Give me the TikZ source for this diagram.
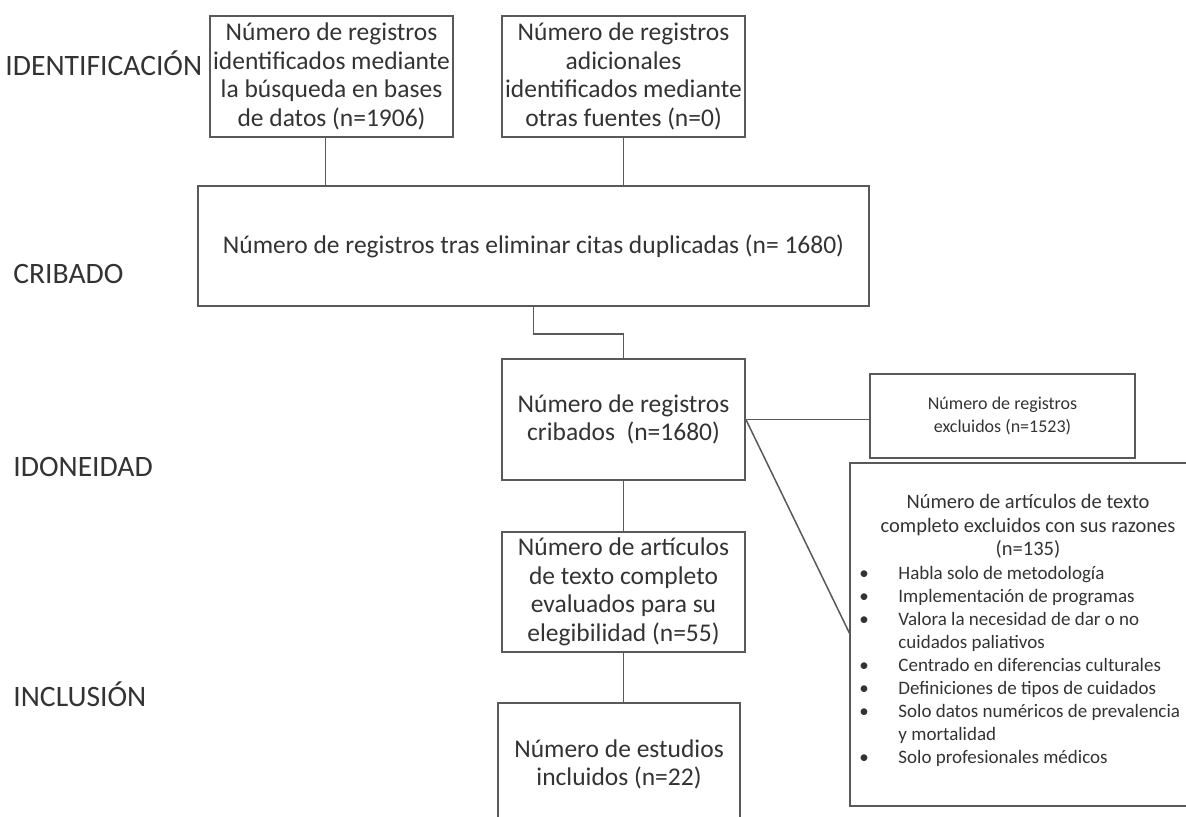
\documentclass[tikz,border=0pt]{standalone}
\usepackage{fontspec}
\setmainfont{Carlito}
\usetikzlibrary{positioning}
\definecolor{linegray}{gray}{0.35}
\definecolor{textgray}{gray}{0.2}
\newcommand\cajafont{\fontsize{12.75}{14.25}\selectfont}
\newcommand\etapafont{\fontsize{14.8}{16}\selectfont}
\newcommand\exclfont{\fontsize{9}{11.5}\selectfont}
\newcommand\titfont{\fontsize{10.25}{11.75}\selectfont}
\newcommand\listafont{\fontsize{9.5}{11.5}\selectfont}
\tikzset{
  box/.style={draw=linegray, line width=0.9pt, inner sep=1pt, align=center, text=textgray},
  stage/.style={anchor=west, inner sep=0pt, text=textgray, font=\etapafont},
  conn/.style={draw=linegray, line width=0.75pt},
  item/.style={inner sep=0pt, text=textgray, font=\listafont},
}

\begin{document}
\begin{tikzpicture}[x=0.5pt,y=-0.5pt]
\useasboundingbox (0,0) rectangle (1186,816);
% etapas
\node[stage] (lid) at (5,63) {IDENTIFICACIÓN};
\node[stage] (lcr) at (13,274) {CRIBADO};
\node[stage] (lido) at (13,467) {IDONEIDAD};
\node[stage] (linc) at (13,694) {INCLUSIÓN};
% cajas
\node[box, minimum width=121.5pt, minimum height=60.5pt, font=\cajafont] (bases) at (331.5,76.5)
  {Número de registros\\identificados mediante\\la búsqueda en bases\\de datos (n=1906)};
\node[box, minimum width=121.5pt, minimum height=60.5pt, font=\cajafont] (otras) at (623.5,76.5)
  {Número de registros\\adicionales\\identificados mediante\\otras fuentes (n=0)};
\node[box, minimum width=335.5pt, minimum height=60pt, font=\cajafont] (dupl) at (533.5,246)
  {Número de registros tras eliminar citas duplicadas (n= 1680)};
\node[box, minimum width=121.5pt, minimum height=60.5pt, font=\cajafont] (crib) at (623.5,419.5)
  {Número de registros\\cribados\ \ (n=1680)};
\node[box, minimum width=121.5pt, minimum height=60pt, font=\cajafont] (eleg) at (623.5,592)
  {Número de artículos\\de texto completo\\evaluados para su\\elegibilidad (n=55)};
\node[box, minimum width=121pt, minimum height=61.5pt, font=\cajafont] (incl) at (619,764.5)
  {Número de estudios\\incluidos (n=22)};
\node[box, minimum width=132.5pt, minimum height=42pt, font=\exclfont] (excl) at (1002.5,416)
  {Número de registros\\excluidos (n=1523)};
% caja de razones: su lado derecho queda fuera de la imagen
\node[box, draw=none, minimum width=190pt, minimum height=170.5pt] (razones) at (1041,634.5) {};
\draw[linegray, line width=0.9pt] (razones.north east) -- (razones.north west)
  -- (razones.south west) -- (razones.south east);
% texto de razones
\node[inner sep=0pt, align=center, text=textgray, font=\titfont] (rtit) at (1028,526.5)
  {Número de artículos de texto\\completo excluidos con sus razones\\(n=135)};
\foreach \y/\b/\t [count=\i] in {573/1/Habla solo de metodología,
    596/1/Implementación de programas,
    619/1/Valora la necesidad de dar o no,
    642/0/cuidados paliativos,
    665/1/Centrado en diferencias culturales,
    688/1/Definiciones de tipos de cuidados,
    711/1/Solo datos numéricos de prevalencia,
    734/0/y mortalidad,
    757/1/Solo profesionales médicos}{
  \node[item, anchor=base west] (r\i) at (898,\y+6) {\t};
  \ifnum\b=1 \node[item, anchor=base] (p\i) at (864,\y+6) {\textbullet}; \fi
}
% conectores
\draw[conn] ([xshift=-3pt]bases.south) -- ([xshift=-3pt]bases.south |- dupl.north);
\draw[conn] (otras.south) -- (otras.south |- dupl.north);
\draw[conn] (dupl.south) -- ++(0,27) -| (crib.north);
\draw[conn] (crib.south) -- (eleg.north);
\draw[conn] (eleg.south) -- (eleg.south |- incl.north);
\draw[conn] (crib.east) -- (crib.east -| excl.west);
\draw[conn] (crib.east) -- (razones.west);
\end{tikzpicture}
\end{document}
